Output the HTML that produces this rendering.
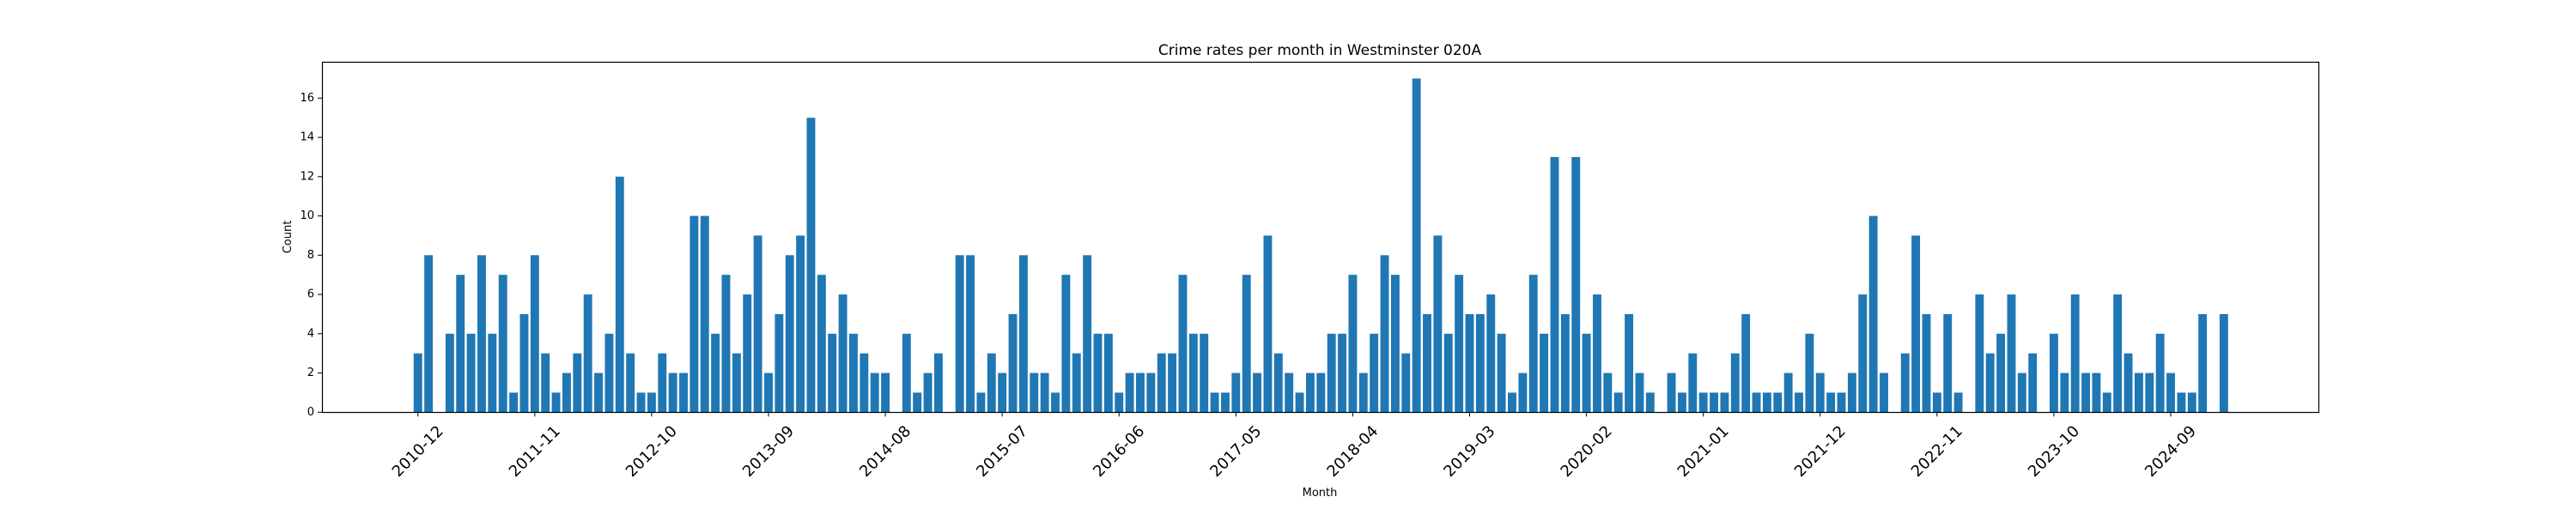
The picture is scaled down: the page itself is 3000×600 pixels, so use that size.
<!DOCTYPE html>
<html><head><meta charset="utf-8"><style>
html,body{margin:0;padding:0;background:#fff;}
svg{display:block;font-family:"DejaVu Sans","Liberation Sans",sans-serif;}
</style></head><body>
<svg id="chart" width="3000" height="600" viewBox="0 0 3000 600" xmlns="http://www.w3.org/2000/svg">
<rect width="3000" height="600" fill="#fff"/>
<text x="1537" y="64" font-size="17" text-anchor="middle">Crime rates per month in Westminster 020A</text>
<g id="bars"></g>
<g id="xaxis"></g>
<g id="yaxis"></g>
<rect x="375.5" y="72.5" width="2325" height="408" fill="none" stroke="#000" stroke-width="1.2"/>
<text x="1537" y="578" font-size="13" text-anchor="middle">Month</text>
<text transform="translate(339,276) rotate(-90)" font-size="13" text-anchor="middle">Count</text>
</svg>
<script>
const startYear = 2010, startMonth = 12;
const counts = [3,8,0,4,7,4,8,4,7,1,5,8,3,1,2,3,6,2,4,12,3,1,1,3,2,2,10,10,4,7,3,6,9,2,5,8,9,15,7,4,6,4,3,2,2,0,4,1,2,3,
0,8,8,1,3,2,5,8,2,2,1,7,3,8,4,4,1,2,2,2,3,3,7,4,4,1,1,2,7,2,9,3,2,1,2,2,4,4,7,2,4,8,7,3,17,5,9,4,7,5,5,6,4,1,2,7,4,13,5,13,4,6,2,
1,5,2,1,0,2,1,3,1,1,1,3,5,1,1,1,2,1,4,2,1,1,2,6,10,2,0,3,9,5,1,5,1,0,6,3,4,6,2,3,0,4,2,6,2,2,1,6,3,2,2,4,2,1,1,5,0,5];
const yTicks = [0,2,4,6,8,10,12,14,16];
const xTickEvery = 11;

const NS = "http://www.w3.org/2000/svg";
const L = 375, R = 2700, T = 72, B = 480.3;
const xMin = -9.03, xMax = 178.9, yMax = 17.85;
const xs = i => L + (i - xMin) / (xMax - xMin) * (R - L);
const ys = v => B - v / yMax * (B - T);
const bw = 0.8 * (R - L) / (xMax - xMin);
function monthLabel(i){ const m0 = (startMonth - 1) + i; const y = startYear + Math.floor(m0/12); const m = m0 % 12 + 1; return y + "-" + String(m).padStart(2,"0"); }
function mk(tag, attrs, parent){ const e = document.createElementNS(NS, tag); for (const k in attrs) e.setAttribute(k, attrs[k]); parent.appendChild(e); return e; }

const gb = document.getElementById("bars");
counts.forEach((v,i) => {
  if (v <= 0) return;
  const r = mk("rect", {x: xs(i) - bw/2, y: ys(v), width: bw, height: ys(0) - ys(v), fill: "#1f77b4"}, gb);
  
  
});

const gx = document.getElementById("xaxis");
for (let i = 0; i < counts.length; i += xTickEvery) {
  const x = xs(i);
  const t = mk("line", {x1: x, x2: x, y1: B, y2: B + 5, stroke: "#000", "stroke-width": 1}, gx);
  
  
  const lb = mk("text", {x: 0, y: 0, "font-size": 18, "text-anchor": "middle", "dominant-baseline": "central", transform: `translate(${x},${526}) rotate(-45)`}, gx);
  lb.textContent = monthLabel(i);
  
  
}

const gy = document.getElementById("yaxis");
yTicks.forEach(v => {
  const y = ys(v);
  const t = mk("line", {x1: L - 5, x2: L, y1: y, y2: y, stroke: "#000", "stroke-width": 1}, gy);
  
  
  const lb = mk("text", {x: L - 9, y: y, "font-size": 13, "text-anchor": "end", "dominant-baseline": "central"}, gy);
  lb.textContent = v;
  
  
});
</script>
</body></html>
